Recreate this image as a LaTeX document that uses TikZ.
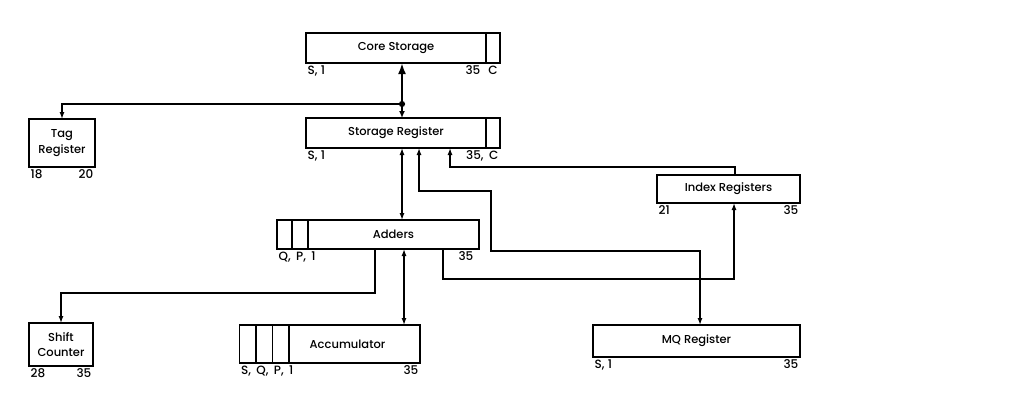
\documentclass[tikz,border=0pt]{standalone}
\usepackage{fontspec}
\setmainfont{Poppins}[UprightFont=* Medium]
\usetikzlibrary{positioning,arrows.meta}

\tikzset{
    reg/.style={draw, line width=1.8pt, inner sep=0pt, outer sep=0pt, align=center,
        font=\fontsize{11.5}{15.5}\selectfont},
    cell/.style={draw, line width=1.8pt, inner sep=0pt, outer sep=0pt},
    bits/.style={inner xsep=1.5pt, inner ysep=2.5pt, font=\fontsize{12}{13}\selectfont},
    link/.style={line width=1.3pt},
    onearrow/.style={-{Latex[length=7pt,width=5pt]}},
    twoarrow/.style={{Latex[length=7pt,width=5pt]}-{Latex[length=7pt,width=5pt]}},
    punkt/.style={circle, fill, inner sep=2.2pt}
}

\begin{document}
\begin{tikzpicture}[x=1pt, y=-1pt]
    \useasboundingbox (0,0) rectangle (1030,402);
    % registers
    \path node[reg, minimum width=180pt, minimum height=30pt] (CS) at (396,48) {Core Storage}
        node[cell, minimum width=14pt, minimum height=30pt, right=0pt of CS] (CSc) {}
        node[reg, minimum width=180pt, minimum height=30pt] (SR) at (396,133) {Storage Register}
        node[cell, minimum width=14pt, minimum height=30pt, right=0pt of SR] (SRc) {}
        node[reg, minimum width=66pt, minimum height=48pt] (TAG) at (62,143) {Tag\\Register}
        node[reg, minimum width=143pt, minimum height=28pt] (IX) at (728.5,189) {Index Registers}
        node[reg, minimum width=171pt, minimum height=29pt] (AD) at (393.5,234.5) {Adders}
        node[cell, minimum width=16pt, minimum height=29pt, left=0pt of AD] (ADb) {}
        node[cell, minimum width=15pt, minimum height=29pt, left=0pt of ADb] (ADa) {}
        node[reg, minimum width=64pt, minimum height=43pt] (SC) at (61,344.5) {Shift\\Counter}
        node[reg, minimum width=131pt, minimum height=38pt] (AC) at (354.5,344) {\hspace*{-14pt}Accumulator}
        node[cell, minimum width=16.5pt, minimum height=38pt, left=0pt of AC] (ACc) {}
        node[cell, minimum width=16.5pt, minimum height=38pt, left=0pt of ACc] (ACb) {}
        node[cell, minimum width=16.5pt, minimum height=38pt, left=0pt of ACb] (ACa) {}
        node[reg, minimum width=207pt, minimum height=32pt] (MQ) at (696.5,341) {MQ Register};
    % bit positions
    \path node[bits, anchor=north west] (CSl) at (CS.south west) {S,\;1}
        node[bits, anchor=north east] (CSr) at ([xshift=-4pt]CS.south east) {35}
        node[bits, anchor=north] (CSx) at (CSc.south) {C}
        node[bits, anchor=north west] (SRl) at (SR.south west) {S,\;1}
        node[bits, anchor=north east] (SRr) at (SRc.south east) {35,\;\,C}
        node[bits, anchor=north west] (TAGl) at (TAG.south west) {18}
        node[bits, anchor=north east] (TAGr) at (TAG.south east) {20}
        node[bits, anchor=north west] (IXl) at (IX.south west) {21}
        node[bits, anchor=north east] (IXr) at (IX.south east) {35}
        node[bits, anchor=north west] (ADl) at (ADa.south west) {Q,\;\,P,\;\,1}
        node[bits, anchor=north east] (ADr) at ([xshift=-4pt]AD.south east) {35}
        node[bits, anchor=north west] (SCl) at (SC.south west) {28}
        node[bits, anchor=north east] (SCr) at (SC.south east) {35}
        node[bits, anchor=north west] (ACl) at (ACa.south west) {S,\;\,Q,\;\,P,\;\,1}
        node[bits, anchor=north east] (ACr) at (AC.south east) {35}
        node[bits, anchor=north west] (MQl) at (MQ.south west) {S,\;1}
        node[bits, anchor=north east] (MQr) at (MQ.south east) {35};
    % data paths
    \node[punkt] (J) at (402,104) {};
    \draw[line width=2.6pt, {Latex[length=11pt,width=8pt]}-{Latex[length=7pt,width=6pt]}]
        ([xshift=6pt]CS.south) -- ([xshift=6pt]SR.north);
    \draw[link, onearrow] (J) -| (TAG.north);
    \draw[link, twoarrow] ([xshift=6pt]SR.south) -- ([xshift=6pt]SR.south |- AD.north);
    \draw[link, twoarrow] ([xshift=10.5pt]AD.south) -- ([xshift=10.5pt]AD.south |- AC.north);
    \draw[link, onearrow] ([xshift=-18.5pt]AD.south) -- ++(0,44) -| (SC.north);
    \draw[link, onearrow] ([xshift=49.5pt]AD.south) -- ++(0,30) -| ([xshift=5.5pt]IX.south);
    \draw[link, twoarrow] ([xshift=23pt]SR.south) -- ++(0,43) -- ++(72,0) -- ++(0,60)
        -| ([xshift=3.5pt]MQ.north);
    \draw[link, onearrow] ([xshift=6.5pt]IX.north) -- ++(0,-8) -| ([xshift=54pt]SR.south);
\end{tikzpicture}
\end{document}
